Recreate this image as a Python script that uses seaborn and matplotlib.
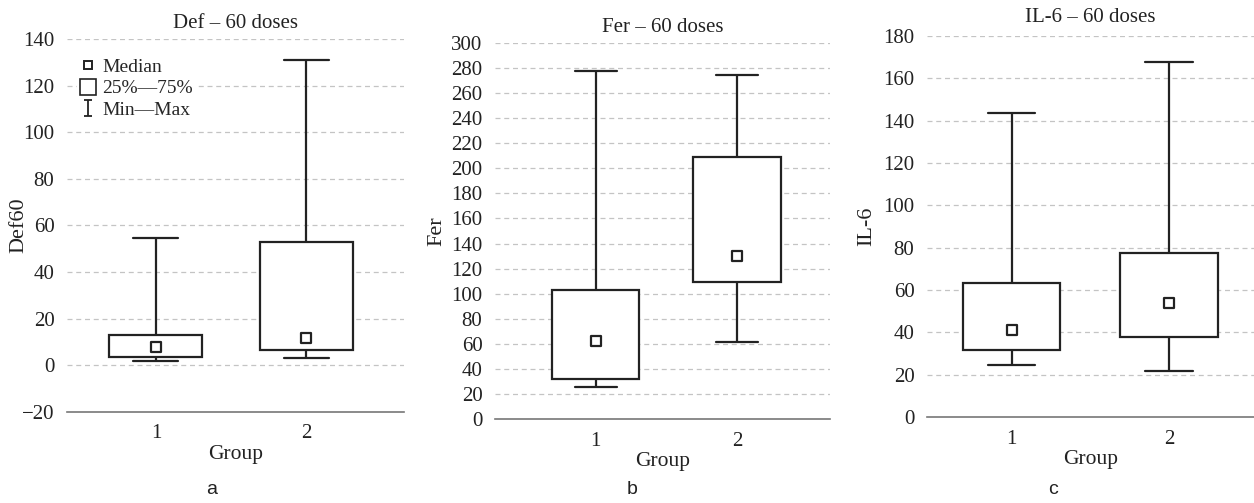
import numpy as np
import pandas as pd
import matplotlib
matplotlib.use("Agg")
import matplotlib.pyplot as plt
from matplotlib.lines import Line2D
from matplotlib.path import Path
import seaborn as sns

# five-number summaries: min, q1, median, q3, max
groups = ["1", "2"]
def60_group1 = [2.0, 3.8, 8.0, 13.0, 54.8]
def60_group2 = [3.0, 6.7, 11.6, 53.0, 131.0]
fer_group1 = [25.8, 31.7, 62.5, 103.0, 278.0]
fer_group2 = [61.7, 109.0, 130.0, 208.7, 274.8]
il6_group1 = [24.8, 31.7, 41.1, 63.4, 143.4]
il6_group2 = [21.6, 38.0, 53.9, 77.5, 167.6]

def_ticks = list(range(-20, 141, 20))
fer_ticks = list(range(0, 301, 20))
il6_ticks = list(range(0, 181, 20))

sns.set_theme(style="white")
plt.rcParams["font.family"] = ["Liberation Serif", "DejaVu Serif"]

W, H = 1254, 503
fig = plt.figure(figsize=(W / 100, H / 100), dpi=100)


def make_frame(g1, g2):
    return pd.DataFrame({
        "Group": [groups[0]] * len(g1) + [groups[1]] * len(g2),
        "value": g1 + g2,
    })


def draw_panel(rect, g1, g2, ticks, ylim, xlim, ylabel, ylabel_x, title, title_y,
               letter, letter_x):
    # rect in pixels: left, top, right, bottom
    l, t, r, b = rect
    ax = fig.add_axes([l / W, 1 - b / H, (r - l) / W, (b - t) / H])
    df = make_frame(g1, g2)
    sns.boxplot(data=df, x="Group", y="value", ax=ax, whis=(0, 100), width=0.62,
                color="white", linecolor="#222222", linewidth=1.6, fliersize=0,
                medianprops={"visible": False},
                capprops={"linewidth": 1.6}, saturation=1)
    # shorter caps, like the reference
    for ln in ax.lines:
        xd = ln.get_xdata()
        yd = ln.get_ydata()
        if len(xd) == 2 and yd[0] == yd[1] and abs(xd[1] - xd[0]) > 0.1:
            c = (xd[0] + xd[1]) / 2
            ln.set_xdata([c - 0.15, c + 0.15])
    medians = [np.median(g1), np.median(g2)]
    sns.scatterplot(x=np.arange(len(groups)), y=medians, ax=ax, marker="s", s=45,
                    color="white", edgecolor="#222222", linewidth=1.6, zorder=5)
    ax.set_ylim(*ylim)
    ax.set_xlim(*xlim)
    ax.set_yticks(ticks)
    ax.set_yticklabels([("\u2212" + str(-v)) if v < 0 else str(v) for v in ticks])
    ax.set_xticks(range(len(groups)))
    ax.set_xticklabels(groups)
    for v in ticks:
        if v != ticks[0]:
            ax.axhline(v, color="#c4c4c4", linestyle=(0, (4, 3)), linewidth=0.9, zorder=0)
    for s in ["top", "right", "left"]:
        ax.spines[s].set_visible(False)
    ax.spines["bottom"].set_color("#777777")
    ax.spines["bottom"].set_linewidth(1.2)
    ax.tick_params(axis="both", length=0, labelsize=15, colors="#222222")
    ax.tick_params(axis="y", pad=9)
    ax.tick_params(axis="x", pad=9)
    ax.set_xlabel("Group", fontsize=15.5, color="#222222", labelpad=1)
    ax.set_ylabel(ylabel, fontsize=16, color="#222222")
    ax.yaxis.set_label_coords((ylabel_x - l) / (r - l), 0.5)
    ax.set_facecolor("white")
    fig.text((l + r) / 2 / W, 1 - title_y / H, title, ha="center", va="center",
             fontsize=15, color="#222222")
    fig.text(letter_x / W, 1 - 490 / H, letter, ha="center", va="center",
             fontsize=14, color="#222222", family=["Liberation Sans", "DejaVu Sans"])
    return ax


ax_a = draw_panel((67, 39, 404, 412), def60_group1, def60_group2, def_ticks,
                  (-20, 140), (-0.593, 1.653), "Def60", 28, "Def \u2013 60 doses", 23,
                  "a", 212)
draw_panel((495, 43, 830, 419), fer_group1, fer_group2, fer_ticks,
           (0, 300), (-0.714, 1.66), "Fer", 446, "Fer \u2013 60 doses", 28, "b", 632)
draw_panel((927, 36, 1254, 417), il6_group1, il6_group2, il6_ticks,
           (0, 180), (-0.538, 1.54), "IL-6", 876, "IL-6 \u2013 60 doses", 18, "c", 1053)

# legend on panel a
ibeam = Path([(-0.5, 1), (0.5, 1), (0, 1), (0, -1), (-0.5, -1), (0.5, -1)],
             [Path.MOVETO, Path.LINETO, Path.MOVETO, Path.LINETO, Path.MOVETO, Path.LINETO])
handles = [
    Line2D([], [], linestyle="none", marker="s", markersize=6, markerfacecolor="white",
           markeredgecolor="#222222", markeredgewidth=1.4),
    Line2D([], [], linestyle="none", marker="s", markersize=11, markerfacecolor="white",
           markeredgecolor="#222222", markeredgewidth=1.2),
    Line2D([], [], linestyle="none", marker=ibeam, markersize=11, markeredgecolor="#222222",
           markeredgewidth=1.3),
]
ax_a.legend(handles, ["Median", "25%\u201475%", "Min\u2014Max"], loc="upper left",
            bbox_to_anchor=(0.0, 0.985), frameon=True, facecolor="white", edgecolor="white",
            framealpha=1, fontsize=14, handlelength=0.8, handletextpad=0.3,
            labelspacing=0.2, borderpad=0.2)

fig.savefig("out.png", dpi=100, facecolor="white")
